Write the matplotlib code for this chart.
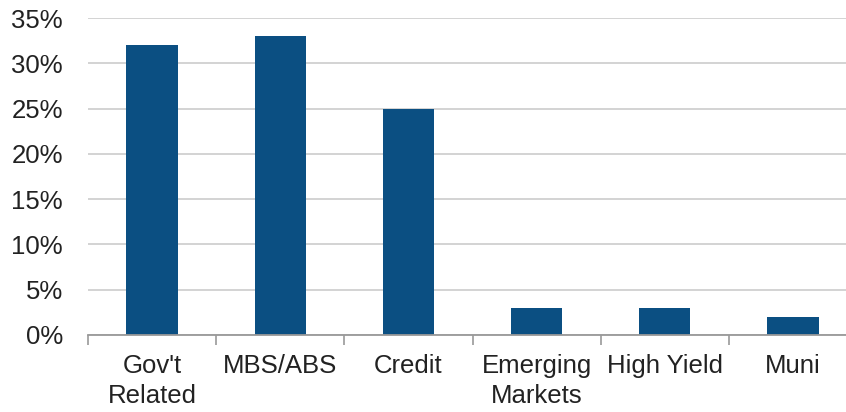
import matplotlib.pyplot as plt
import numpy as np
from matplotlib.ticker import FixedLocator, PercentFormatter

categories = ["Gov't\nRelated", "MBS/ABS", "Credit", "Emerging\nMarkets", "High Yield", "Muni"]
values = [32, 33, 25, 3, 3, 2]

plt.rcParams['font.family'] = ['Liberation Sans', 'DejaVu Sans']

fig = plt.figure(figsize=(8.46, 4.12), dpi=100)
# axes runs slightly past the right edge, as in the original crop
ax = fig.add_axes([88 / 846, 77 / 412, (857 - 88) / 846, 317 / 412])

x = np.arange(len(categories))
ax.bar(x, values, width=0.4, color='#0b4f82', zorder=3)

ax.set_xlim(-0.5, len(categories) - 0.5)
ax.set_ylim(0, 35)
ax.set_yticks(np.arange(0, 36, 5))
ax.yaxis.set_major_formatter(PercentFormatter(decimals=0))
ax.grid(axis='y', color='#d0d0d0', linewidth=1.3, zorder=0)

# labels centred on bars, tick marks at category boundaries
ax.set_xticks(x)
ax.set_xticklabels(categories, va='top', linespacing=1.3)
ax.xaxis.set_minor_locator(FixedLocator(np.arange(-0.5, len(categories), 1)))
ax.tick_params(axis='x', which='major', length=0, pad=14, labelsize=18.5, colors='#222222')
ax.tick_params(axis='x', which='minor', length=7, width=1.2, color='#999999', direction='out')
ax.tick_params(axis='y', length=0, pad=18, labelsize=18.5, colors='#222222')

for s in ['top', 'right', 'left']:
    ax.spines[s].set_visible(False)
ax.spines['bottom'].set_color('#999999')
ax.spines['bottom'].set_linewidth(1.3)
ax.spines['bottom'].set_zorder(4)

plt.savefig('out.png', dpi=100)
plt.close()
